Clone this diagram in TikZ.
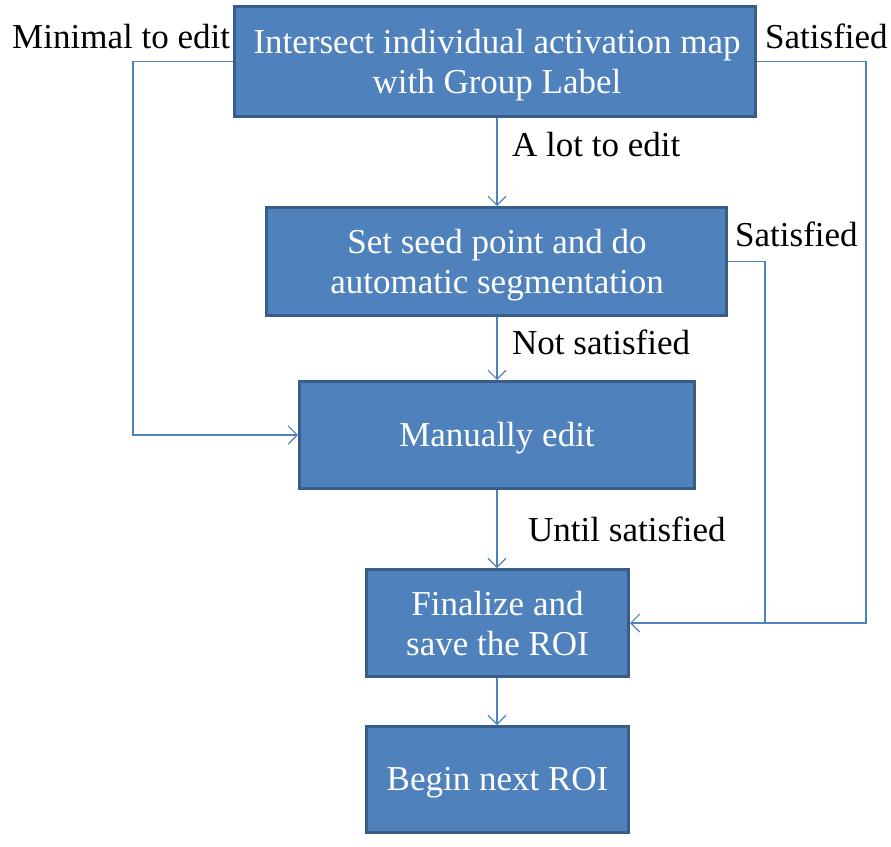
\documentclass[tikz,border=0pt]{standalone}
\usepackage{fontspec}
\setmainfont{Liberation Serif}
\usetikzlibrary{arrows.meta}
\definecolor{boxfill}{HTML}{4F81BD}
\definecolor{boxline}{HTML}{385D8A}
\begin{document}
\begin{tikzpicture}[x=1pt,y=-1pt,
 stepbox/.style={draw=boxline, line width=3pt, fill=boxfill, inner sep=0pt},
 boxtext/.style={text=white, align=center, font=\fontsize{35}{40}\selectfont, inner sep=0pt, anchor=base},
 conn/.style={draw=boxfill, line width=1.2pt, -{Straight Barb[length=9pt,width=18pt,line width=1.2pt]}},
 plain/.style={draw=boxfill, line width=1.2pt},
 lbl/.style={font=\fontsize{35}{40}\selectfont, inner sep=0pt, anchor=base west}]
\useasboundingbox (0,0) rectangle (891,846);
\node[stepbox, minimum width=521pt, minimum height=110pt] (b1) at (495,61.5) {};
\node[stepbox, minimum width=460pt, minimum height=108pt] (b2) at (496.5,261.5) {};
\node[stepbox, minimum width=395pt, minimum height=107pt] (b3) at (497,435) {};
\node[stepbox, minimum width=262pt, minimum height=107pt] (b4) at (497.5,623) {};
\node[stepbox, minimum width=262pt, minimum height=106pt] (b5) at (497.5,779.5) {};
\node[boxtext] (t1) at (497,93) {Intersect individual activation map\\with Group Label};
\node[boxtext] (t2) at (497,293) {Set seed point and do\\automatic segmentation};
\node[boxtext] (t3) at (497,446) {Manually edit};
\node[boxtext] (t4) at (497.5,655) {Finalize and\\save the ROI};
\node[boxtext] (t5) at (497.5,790.5) {Begin next ROI};
\coordinate (lx) at (133,0);
\coordinate (rx) at (866,0);
\coordinate (mx) at (765,0);
\coordinate (cx) at (497,0);
\draw[conn] (cx |- b1.south) -- (cx |- b2.north);
\draw[conn] (cx |- b2.south) -- (cx |- b3.north);
\draw[conn] (cx |- b3.south) -- (cx |- b4.north);
\draw[conn] (cx |- b4.south) -- (cx |- b5.north);
\draw[conn] (b1.west) -- (b1.west -| lx) -- (lx |- b3.west) -- (b3.west);
\draw[conn] (b1.east) -- (b1.east -| rx) -- (rx |- b4.east) -- (b4.east);
\draw[plain] (b2.east) -- (b2.east -| mx) -- (mx |- b4.east);
\node[lbl] (l1) at (12,48) {Minimal to edit};
\node[lbl] (l2) at (765,48) {Satisfied};
\node[lbl] (l3) at (512,156) {A lot to edit};
\node[lbl] (l4) at (735,246) {Satisfied};
\node[lbl] (l5) at (512,354) {Not satisfied};
\node[lbl] (l6) at (528,541) {Until satisfied};
\end{tikzpicture}
\end{document}
